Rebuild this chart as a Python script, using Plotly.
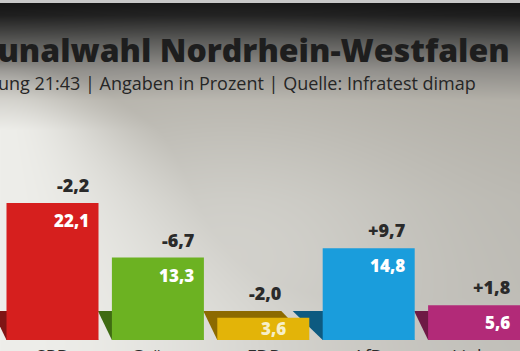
import zlib, struct, base64
import numpy as np
import plotly.graph_objects as go

# ---- data ----
parties = ["SPD", "Grüne", "FDP", "AfD", "Linke"]
values = [22.1, 13.3, 3.6, 14.8, 5.6]
changes = [-2.2, -6.7, -2.0, 9.7, 1.8]
title_text = "Kommunalwahl Nordrhein-Westfalen"
subtitle_text = "Hochrechnung 21:43 | Angaben in Prozent | Quelle: Infratest dimap"

# ---- style ----
bar_colors = ["#d61f1e", "#6cb222", "#e3b408", "#1a9ddc", "#b22a78"]
shadow_colors = ["#7f1515", "#3f6b12", "#8c6a00", "#0d5a80", "#6e1a45"]
shadow_left_px = [14, 14, 14, 30, 14]
W, H = 520, 351
px_per_cat = 105.4
px_per_unit = 6.2
bar_w_px = 92
bar_w = bar_w_px / px_per_cat
x0 = -52.5 / px_per_cat
x1 = x0 + W / px_per_cat
y0 = -(H - 340) / px_per_unit
y1 = y0 + H / px_per_unit
plinth_h = 29 / px_per_unit
plinth_right_px = 28
plinth_right = plinth_right_px / px_per_cat


def fmt(v, sign=False):
    s = f"{abs(v):.1f}".replace(".", ",")
    if sign:
        return ("+" if v > 0 else "-") + s
    return s


# ---- background gradient image ----
def make_bg():
    yy, xx = np.mgrid[0:H, 0:W].astype(float)
    stops_y = [0, 2, 3, 15, 40, 70, 100, 200, 351]
    stops_c = [(200, 200, 200), (200, 200, 200), (21, 21, 21), (30, 30, 30),
               (85, 85, 83), (142, 140, 136), (178, 175, 167), (186, 184, 177), (190, 188, 182)]
    img = np.zeros((H, W, 3))
    for k in range(3):
        img[..., k] = np.interp(yy, stops_y, [c[k] for c in stops_c])
    sigma = np.clip(80 + (yy - 90) * 1.1, 40, 320)
    w = np.exp(-(xx / sigma) ** 2) * np.clip((yy - 60) / 70, 0, 1)
    w2 = 0.45 * np.exp(-((xx - 230) / 200) ** 2 - ((yy - 250) / 140) ** 2)
    w = np.maximum(w, w2)
    glow = np.array([238, 238, 234])
    img = img * (1 - w[..., None]) + glow * w[..., None]
    img = np.clip(img, 0, 255).astype(np.uint8)
    raw = b"".join(b"\x00" + img[r].tobytes() for r in range(H))

    def chunk(t, d):
        return struct.pack(">I", len(d)) + t + d + struct.pack(">I", zlib.crc32(t + d) & 0xffffffff)

    png = (b"\x89PNG\r\n\x1a\n" + chunk(b"IHDR", struct.pack(">IIBBBBB", W, H, 8, 2, 0, 0, 0))
           + chunk(b"IDAT", zlib.compress(raw, 9)) + chunk(b"IEND", b""))
    return "data:image/png;base64," + base64.b64encode(png).decode()


xs = list(range(len(parties)))
fig = go.Figure()
fig.add_trace(go.Bar(x=xs, y=values, width=bar_w, marker=dict(color=bar_colors, line=dict(width=0)),
                     hoverinfo="skip"))

shapes = []
for i, (p, v) in enumerate(zip(parties, values)):
    L = i - bar_w / 2
    R = i + bar_w / 2
    dl = shadow_left_px[i] / px_per_cat
    path = f"M {L - dl},{plinth_h} L {R - plinth_right},{plinth_h} L {R},0 L {L},0 Z"
    shapes.append(dict(type="path", path=path, xref="x", yref="y", layer="below",
                       fillcolor=shadow_colors[i], line=dict(width=0)))

annotations = []
font_family = "Open Sans"
half = bar_w_px / 2
for i, (p, v, c) in enumerate(zip(parties, values, changes)):
    short = v * px_per_unit < 30
    # value label inside bar
    if short:
        annotations.append(dict(x=i, y=v / 2, xref="x", yref="y", text=fmt(v), showarrow=False,
                                xanchor="right", yanchor="middle", xshift=half - 21, yshift=0,
                                font=dict(family=font_family, size=17, weight=800, color="#f6efc8")))
    else:
        annotations.append(dict(x=i, y=v, xref="x", yref="y", text=fmt(v), showarrow=False,
                                xanchor="right", yanchor="top", xshift=half - 8, yshift=-4,
                                font=dict(family=font_family, size=17, weight=800, color="white")))
    # change label above bar (or above the plinth for short bars)
    top = max(v, plinth_h)
    rshift = half - (plinth_right_px - 2 if v < plinth_h else 8)
    annotations.append(dict(x=i, y=top, xref="x", yref="y", text=fmt(c, True), showarrow=False,
                            xanchor="right", yanchor="bottom", xshift=rshift, yshift=4,
                            font=dict(family=font_family, size=18, weight=800, color="#2a2a2a")))
    # party name below
    annotations.append(dict(x=i, y=0, xref="x", yref="y", text=p, showarrow=False,
                            xanchor="center", yanchor="top", yshift=-2,
                            font=dict(family=font_family, size=18, color="#2b2b2b")))

annotations.append(dict(x=512 / W, y=1 - 49 / H, xref="paper", yref="paper", text=title_text,
                        showarrow=False, xanchor="right", yanchor="middle",
                        font=dict(family=font_family, size=32, weight=800, color="#1e1e1e")))
annotations.append(dict(x=478 / W, y=1 - 83 / H, xref="paper", yref="paper", text=subtitle_text,
                        showarrow=False, xanchor="right", yanchor="middle",
                        font=dict(family=font_family, size=18, color="#262626")))

fig.update_layout(
    width=W, height=H, margin=dict(l=0, r=0, t=0, b=0),
    paper_bgcolor="#c0beb8", plot_bgcolor="rgba(0,0,0,0)",
    showlegend=False,
    xaxis=dict(range=[x0, x1], visible=False, fixedrange=True),
    yaxis=dict(range=[y0, y1], visible=False, fixedrange=True),
    shapes=shapes, annotations=annotations,
    images=[dict(source=make_bg(), xref="paper", yref="paper", x=0, y=1, sizex=1, sizey=1,
                 sizing="stretch", xanchor="left", yanchor="top", layer="below")],
)
fig.write_html("out.html")
